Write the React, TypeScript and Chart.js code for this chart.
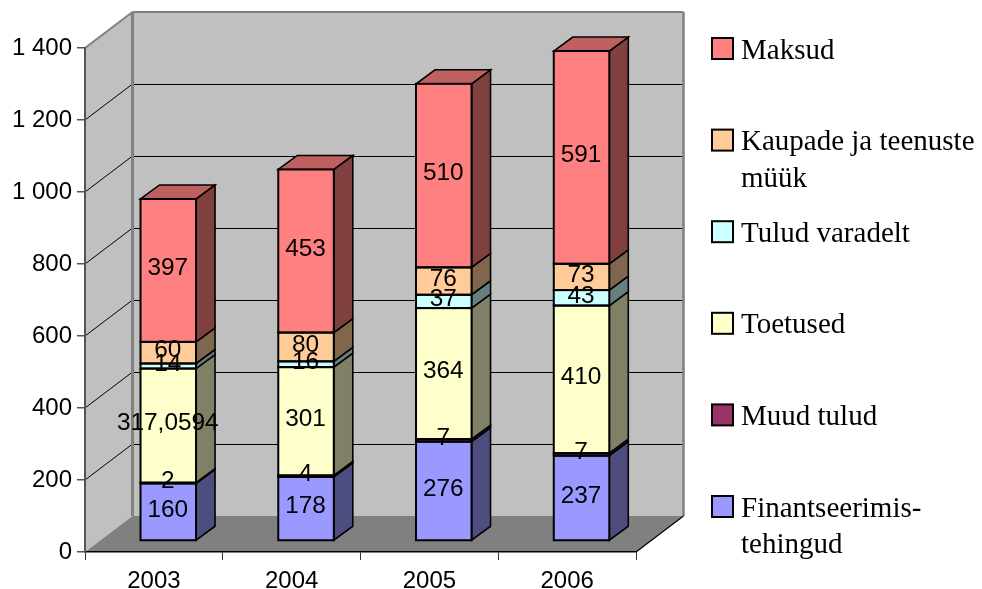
import React, { useEffect, useRef } from "react";
import { Chart, registerables } from "chart.js";

Chart.register(...registerables);

const years = ["2003", "2004", "2005", "2006"];
const finantseerimine = [160, 178, 276, 237];
const muudTulud = [2, 4, 7, 7];
const toetused = [317.0594, 301, 364, 410];
const tuludVaradelt = [14, 16, 37, 43];
const kaubadTeenused = [60, 80, 76, 73];
const maksud = [397, 453, 510, 591];

const seriesValues = [finantseerimine, muudTulud, toetused, tuludVaradelt, kaubadTeenused, maksud];
const seriesNames = [
  ["Finantseerimis-", "tehingud"],
  ["Muud tulud"],
  ["Toetused"],
  ["Tulud varadelt"],
  ["Kaupade ja teenuste", "müük"],
  ["Maksud"],
];
const seriesColors = ["#9999FF", "#993366", "#FFFFCC", "#CCFFFF", "#FFCC99", "#FF8080"];

const WALL_DX = 47.5;
const WALL_DY = 36;
const BAR_SHIFT_X = 14.4;
const BAR_SHIFT_Y = 11;
const BAR_DX = 19;
const BAR_DY = 14;

function shade(hex: string, f: number) {
  const n = parseInt(hex.slice(1), 16);
  const r = Math.round(((n >> 16) & 255) * f);
  const g = Math.round(((n >> 8) & 255) * f);
  const b = Math.round((n & 255) * f);
  return `rgb(${r},${g},${b})`;
}

function poly(ctx: CanvasRenderingContext2D, pts: number[][], fill?: string, stroke?: string, lw = 1) {
  ctx.beginPath();
  pts.forEach((p, i) => (i ? ctx.lineTo(p[0], p[1]) : ctx.moveTo(p[0], p[1])));
  ctx.closePath();
  if (fill) {
    ctx.fillStyle = fill;
    ctx.fill();
  }
  if (stroke) {
    ctx.strokeStyle = stroke;
    ctx.lineWidth = lw;
    ctx.stroke();
  }
}

function seg(ctx: CanvasRenderingContext2D, x1: number, y1: number, x2: number, y2: number, color: string, lw: number) {
  ctx.beginPath();
  ctx.moveTo(x1, y1);
  ctx.lineTo(x2, y2);
  ctx.strokeStyle = color;
  ctx.lineWidth = lw;
  ctx.stroke();
}

const box3d = {
  id: "box3d",
  beforeDraw(chart: any) {
    const { ctx, chartArea: a, scales } = chart;
    const l = a.left, r = a.right, t = a.top, b = a.bottom;
    const dx = WALL_DX, dy = WALL_DY;
    ctx.save();
    ctx.fillStyle = "#fff";
    ctx.fillRect(0, 0, chart.width, chart.height);
    poly(ctx, [[l, t], [l + dx, t - dy], [l + dx, b - dy], [l, b]], "#C0C0C0");
    poly(ctx, [[l + dx, t - dy], [r + dx, t - dy], [r + dx, b - dy], [l + dx, b - dy]], "#C0C0C0");
    poly(ctx, [[l, b], [r, b], [r + dx, b - dy], [l + dx, b - dy]], "#808080");
    scales.y.ticks.forEach((tick: any) => {
      if (tick.value <= 0 || tick.value >= scales.y.max) return;
      const y = scales.y.getPixelForValue(tick.value);
      seg(ctx, l + dx, y - dy + 0.5, r + dx, y - dy + 0.5, "#000", 1.1);
      seg(ctx, l, y, l + dx, y - dy, "#000", 1);
    });
    seg(ctx, l, t, l + dx, t - dy, "#808080", 2);
    seg(ctx, l + dx, t - dy, r + dx, t - dy, "#808080", 2);
    seg(ctx, l + dx, t - dy, l + dx, b - dy, "#808080", 3);
    seg(ctx, r + dx, t - dy, r + dx, b - dy, "#808080", 2.5);
    seg(ctx, r, b, r + dx, b - dy, "#000", 1.2);
    ctx.restore();
  },
  beforeDatasetsDraw(chart: any) {
    const { ctx } = chart;
    ctx.save();
    ctx.translate(BAR_SHIFT_X, -BAR_SHIFT_Y);
    seriesValues.forEach((_, d) => {
      const color = seriesColors[d];
      chart.getDatasetMeta(d).data.forEach((bar: any) => {
        const { x, y, base, width } = bar.getProps(["x", "y", "base", "width"], true);
        const rx = x + width / 2;
        const lx = x - width / 2;
        poly(ctx, [[rx, y], [rx + BAR_DX, y - BAR_DY], [rx + BAR_DX, base - BAR_DY], [rx, base]], shade(color, 0.5), "#000", 1.6);
        if (d === seriesValues.length - 1) {
          poly(ctx, [[lx, y], [lx + BAR_DX, y - BAR_DY], [rx + BAR_DX, y - BAR_DY], [rx, y]], shade(color, 0.75), "#000", 1.6);
        }
      });
    });
  },
  afterDatasetsDraw(chart: any) {
    const { ctx } = chart;
    seriesValues.forEach((values, d) => {
      chart.getDatasetMeta(d).data.forEach((bar: any) => {
        const { x, y, base, width } = bar.getProps(["x", "y", "base", "width"], true);
        ctx.strokeStyle = "#000";
        ctx.lineWidth = 2;
        ctx.strokeRect(x - width / 2, y, width, base - y);
      });
    });
    ctx.fillStyle = "#000";
    ctx.font = '24.4px "Liberation Sans"';
    ctx.textAlign = "center";
    ctx.textBaseline = "middle";
    seriesValues.forEach((values, d) => {
      chart.getDatasetMeta(d).data.forEach((bar: any, i: number) => {
        const { x, y, base } = bar.getProps(["x", "y", "base"], true);
        ctx.fillText(String(values[i]).replace(".", ","), x - 0.5, (y + base) / 2 - 2);
      });
    });
    ctx.restore();

    ctx.save();
    ctx.textAlign = "left";
    ctx.textBaseline = "alphabetic";
    const order = seriesNames.map((_, i) => seriesNames.length - 1 - i);
    order.forEach((d, row) => {
      const top = 38 + row * 91.6;
      ctx.fillStyle = seriesColors[d];
      ctx.strokeStyle = "#000";
      ctx.lineWidth = 2;
      ctx.fillRect(712, top, 21, 21);
      ctx.strokeRect(712, top, 21, 21);
      ctx.fillStyle = "#000";
      ctx.font = '29px "Liberation Serif"';
      seriesNames[d].forEach((line, k) => ctx.fillText(line, 741, top + 20.5 + k * 36.6));
    });
    ctx.restore();
  },
};

export default function App() {
  const ref = useRef<HTMLCanvasElement>(null);
  useEffect(() => {
    const chart = new Chart(ref.current as HTMLCanvasElement, {
      type: "bar",
      data: {
        labels: years,
        datasets: seriesValues.map((values, i) => ({
          label: seriesNames[i].join(" "),
          data: values,
          backgroundColor: seriesColors[i],
          borderWidth: 0,
          barPercentage: 0.403,
          categoryPercentage: 1,
          clip: false as any,
        })),
      },
      options: {
        responsive: false,
        animation: false,
        layout: { padding: { left: 0, top: 48, right: 346, bottom: 0 } },
        plugins: { legend: { display: false }, tooltip: { enabled: false } },
        font: { family: '"Liberation Sans"', size: 24 },
        scales: {
          x: {
            stacked: true,
            afterFit: (s: any) => { s.height = 37; },
            border: { color: "#000", width: 1.5 },
            grid: { drawOnChartArea: false, tickLength: 8, color: "#333", lineWidth: 1 },
            ticks: { color: "#000", padding: 7, maxRotation: 0, font: { family: '"Liberation Sans"', size: 24 } },
          },
          y: {
            stacked: true,
            min: 0,
            max: 1400,
            afterFit: (s: any) => { s.width = 85; },
            border: { color: "#555", width: 2 },
            grid: { drawOnChartArea: false, tickLength: 8, color: "#555", lineWidth: 1.5 },
            ticks: {
              stepSize: 200,
              color: "#000",
              padding: 5,
              font: { family: '"Liberation Sans"', size: 24 },
              callback: (v: any) => String(v).replace(/\B(?=(\d{3})+$)/g, " "),
            },
          },
        },
      } as any,
      plugins: [box3d],
    });
    return () => chart.destroy();
  }, []);
  return (
    <div style={{ position: "absolute", left: 0, top: 0 }}>
      <canvas ref={ref} width={982} height={589} style={{ display: "block" }} />
    </div>
  );
}
